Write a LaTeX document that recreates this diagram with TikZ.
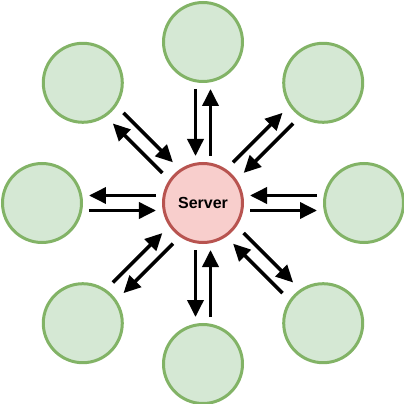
\documentclass[tikz,border=0pt]{standalone}
\usepackage{fontspec}
\setmainfont{Liberation Sans}
\usetikzlibrary{arrows.meta,calc}
\definecolor{cfill}{HTML}{D5E8D4}
\definecolor{cline}{HTML}{82B366}
\definecolor{sfill}{HTML}{F8CECC}
\definecolor{sline}{HTML}{B85450}
\begin{document}
\begin{tikzpicture}[x=1pt,y=1pt,>={Triangle[length=17pt,width=16pt]},
        font=\fontsize{16}{19}\selectfont\bfseries,
        client/.style={circle,draw=cline,fill=cfill,line width=3pt,minimum size=79pt,inner sep=0pt},
        server/.style={client,draw=sline,fill=sfill},
        arr/.style={->,line width=3.6pt}]
        \useasboundingbox (-203,-201) rectangle (201,203);
        \node[server] (srv) at (0,0) {Server};
        \foreach \n/\a/\d in {1/0/161,2/45/170,3/90/161,4/135/170,5/180/161,6/225/170,7/270/161,8/315/170}
            \node[client] (c\n) at (\a:\d) {};
        %===========================================
        \foreach \n/\o/\s in {1/-90/47,2/135/50,3/0/47,4/225/50,5/90/47,6/-45/50,7/180/47,8/45/50}{
            \draw[arr,shorten <=\s pt,shorten >=\s pt] ($(srv.center)+(\o:7.5)$) -- ($(c\n.center)+(\o:7.5)$);
            \draw[arr,shorten <=\s pt,shorten >=\s pt] ($(c\n.center)+(\o+180:7.5)$) -- ($(srv.center)+(\o+180:7.5)$);
        }
\end{tikzpicture}
\end{document}
